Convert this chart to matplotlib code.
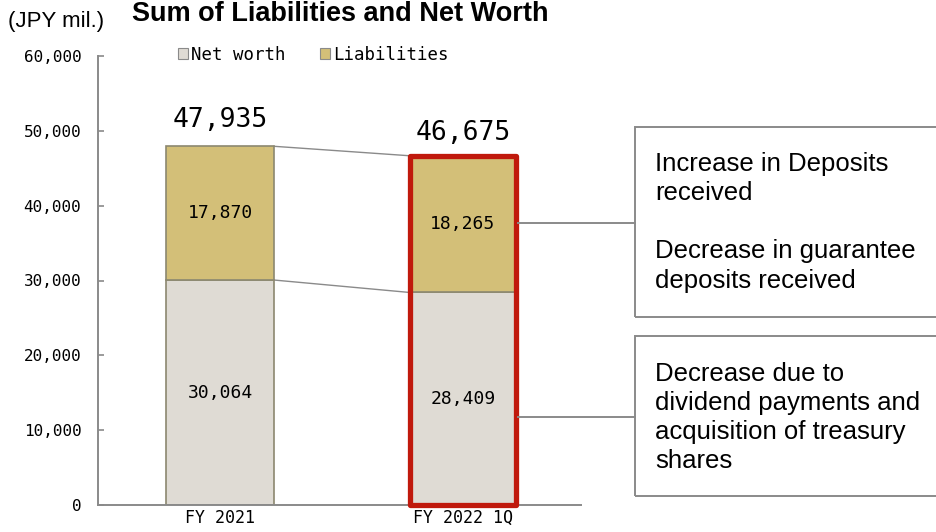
import matplotlib
matplotlib.use("Agg")
import matplotlib.pyplot as plt
from matplotlib.patches import Rectangle, Patch
from matplotlib.lines import Line2D

categories = ["FY 2021", "FY 2022 1Q"]
net_worth = [30064, 28409]
liabilities = [17870, 18265]
totals = [47935, 46675]
series_names = ["Net worth", "Liabilities"]
y_ticks = [0, 10000, 20000, 30000, 40000, 50000, 60000]
note_liab = "Increase in Deposits\nreceived\n\nDecrease in guarantee\ndeposits received"
note_net = "Decrease due to\ndividend payments and\nacquisition of treasury\nshares"

W, H = 936, 532
fig = plt.figure(figsize=(W / 100, H / 100), dpi=100)
fig.patch.set_facecolor("white")

def fx(px):
    return px / W

def fy(py):
    return 1 - py / H

ax = fig.add_axes([fx(98), fy(505), fx(581) - fx(98), fy(56) - fy(505)])

c_net = "#dfdbd4"
c_liab = "#d3bf78"
c_edge = "#8c8870"
c_red = "#c0190c"
c_gray = "#8a8a8a"
mono = "DejaVu Sans Mono"

x = [0, 1]
bw = 0.444
ax.bar(x, net_worth, width=bw, color=c_net, edgecolor=c_edge, linewidth=1.2, zorder=2)
ax.bar(x, liabilities, bottom=net_worth, width=bw, color=c_liab, edgecolor=c_edge,
       linewidth=1.2, zorder=2)

# red highlight around second bar
ax.add_patch(Rectangle((x[1] - bw / 2 + 0.003, 0), bw - 0.006, totals[1], fill=False,
                       edgecolor=c_red, linewidth=3.8, zorder=4, clip_on=False,
                       joinstyle="round"))

# connector lines between bars
ax.plot([x[0] + bw / 2, x[1] - bw / 2], [totals[0], totals[1]], color=c_gray, lw=1.0, zorder=1)
ax.plot([x[0] + bw / 2, x[1] - bw / 2], [net_worth[0], net_worth[1]], color=c_gray, lw=1.0, zorder=1)

# value labels
for i in range(2):
    ax.text(x[i], net_worth[i] / 2, f"{net_worth[i]:,}", ha="center", va="center",
            fontsize=13, family=mono, zorder=5)
    ax.text(x[i], net_worth[i] + liabilities[i] / 2, f"{liabilities[i]:,}", ha="center",
            va="center", fontsize=13, family=mono, zorder=5)
ax.text(x[0], totals[0] + 3500, f"{totals[0]:,}", ha="center", va="center", fontsize=19,
        family=mono)
ax.text(x[1], totals[1] + 3100, f"{totals[1]:,}", ha="center", va="center", fontsize=19,
        family=mono)

ax.set_xlim(-0.502, 1.486)
ax.set_ylim(0, 60000)
ax.set_yticks(y_ticks)
ax.set_yticklabels([f"{v:,}" for v in y_ticks], family=mono, fontsize=11.5)
ax.set_xticks(x)
ax.set_xticklabels(categories, family=mono, fontsize=12)
ax.tick_params(axis="x", length=0, pad=3)
ax.tick_params(axis="y", direction="in", length=4, color=c_gray, width=1.2, pad=12)
for s in ["top", "right"]:
    ax.spines[s].set_visible(False)
for s in ["left", "bottom"]:
    ax.spines[s].set_color(c_gray)
    ax.spines[s].set_linewidth(1.4)
ax.set_facecolor("none")

# annotation boxes
fig.add_artist(Rectangle((fx(635), fy(317)), fx(960) - fx(635), fy(127) - fy(317),
                         transform=fig.transFigure, fill=False, edgecolor=c_gray, lw=1.4))
fig.add_artist(Rectangle((fx(635), fy(496)), fx(960) - fx(635), fy(336) - fy(496),
                         transform=fig.transFigure, fill=False, edgecolor=c_gray, lw=1.4))
fig.add_artist(Line2D([fx(518), fx(635)], [fy(223), fy(223)], transform=fig.transFigure,
                      color=c_gray, lw=1.4))
fig.add_artist(Line2D([fx(518), fx(635)], [fy(417), fy(417)], transform=fig.transFigure,
                      color=c_gray, lw=1.4))
fig.text(fx(655), fy(152), note_liab, ha="left", va="top", fontsize=18.5,
         family="Liberation Sans", linespacing=1.27)
fig.text(fx(655), fy(362), note_net, ha="left", va="top", fontsize=18.5,
         family="Liberation Sans", linespacing=1.27)

# titles
fig.text(fx(132), fy(21), "Sum of Liabilities and Net Worth", ha="left", va="baseline",
         fontsize=19.5, fontweight="bold", family="Liberation Sans")
fig.text(fx(8), fy(22), "(JPY mil.)", ha="left", va="center", fontsize=16,
         family="Liberation Sans")

# legend
handles = [Patch(facecolor=c_net, edgecolor=c_gray, lw=0.8),
           Patch(facecolor=c_liab, edgecolor=c_gray, lw=0.8)]
fig.legend(handles, series_names, loc="center", bbox_to_anchor=(fx(313), fy(55)), ncol=2,
           frameon=False, prop={"family": mono, "size": 12.5}, handlelength=0.6,
           handleheight=0.6, handletextpad=0.15, columnspacing=2.0)

fig.savefig("out.png", dpi=100)
